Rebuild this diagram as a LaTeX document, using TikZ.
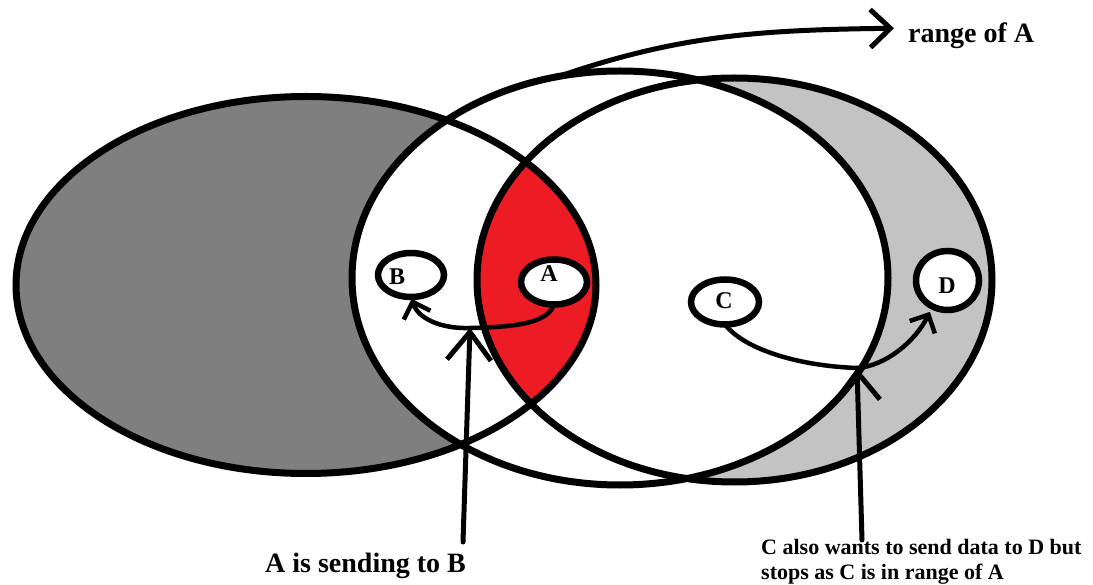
\documentclass[tikz,border=0pt]{standalone}
\usepackage{fontspec}
\setmainfont{Liberation Serif}
\usetikzlibrary{arrows.meta,shapes.geometric}
\definecolor{darkgr}{RGB}{127,127,127}
\definecolor{lightgr}{RGB}{195,195,195}
\definecolor{paintred}{RGB}{237,28,36}
\begin{document}
\begin{tikzpicture}[x=1pt,y=-1pt,
  venn/.style={line width=7pt},
  station/.style={ellipse, draw, line width=6.5pt, fill=white, inner sep=0pt, outer sep=0pt},
  letter/.style={font=\fontsize{24}{26}\selectfont\bfseries, inner sep=0pt},
  link/.style={line width=4.5pt, line cap=round, -{Straight Barb[length=14pt,width=28pt]}},
  pointer/.style={line width=5pt, line cap=round, -{Straight Barb[length=28pt,width=44pt]}},
  rangearrow/.style={line width=5pt, line cap=round, -{Straight Barb[length=20pt,width=38pt]}},
  caption/.style={font=\bfseries, inner sep=0pt}
]
\useasboundingbox (0,0) rectangle (1093,585);
% fills
\fill[darkgr] (306,285) ellipse [x radius=290pt, y radius=188.5pt];
\fill[lightgr] (734.5,280) ellipse [x radius=257.5pt, y radius=202pt];
\fill[white] (620,278) ellipse [x radius=268pt, y radius=207pt];
\begin{scope}
  \clip (306,285) ellipse [x radius=290pt, y radius=188.5pt];
  \fill[paintred] (734.5,280) ellipse [x radius=257.5pt, y radius=202pt];
\end{scope}
% outlines
\draw[venn] (306,285) ellipse [x radius=290pt, y radius=188.5pt];
\draw[venn] (620,278) ellipse [x radius=268pt, y radius=207pt];
\draw[venn] (734.5,280) ellipse [x radius=257.5pt, y radius=202pt];
% stations
\node[station, minimum width=66pt, minimum height=44pt] (nB) at (411,275) {};
\node[station, minimum width=66pt, minimum height=45pt] (nA) at (554,282) {};
\node[station, minimum width=68pt, minimum height=45pt] (nC) at (725,302) {};
\node[station, minimum width=63pt, minimum height=59pt] (nD) at (947.5,280.5) {};
\node[letter] (tB) at (397,277) {B};
\node[letter] (tA) at (549,274) {A};
\node[letter] (tC) at (724,301) {C};
\node[letter] (tD) at (947,286) {D};
% connectors
\coordinate (hitAB) at (470,328);
\coordinate (hitCD) at (857,368);
\draw[link, shorten >=2pt] (nA.south) .. controls (548,322) and (520,327) .. (hitAB)
   .. controls (440,329) and (418,318) .. (nB.south);
\draw[link, shorten >=6pt] (nC.south) .. controls (745,350) and (800,366) .. (hitCD)
   .. controls (885,366) and (915,342) .. (nD.240);
% range arrow
\node[caption, anchor=base west, font=\fontsize{28}{30}\selectfont\bfseries] (rangeA) at (908,43) {range of A};
\coordinate (rs) at (560,76);
\draw[rangearrow] (rs) .. controls (680,35) and (760,30) .. ([xshift=-14pt,yshift=8pt]rangeA.west);
% captions and pointers
\node[caption, anchor=base west, font=\fontsize{28}{30}\selectfont\bfseries] (sendtxt) at (265,572) {A is sending to B};
\node[caption, anchor=north west, align=left, font=\fontsize{22}{25.5}\selectfont\bfseries] (stoptxt) at (761,539) {C also wants to send data to D but\\stops as C is in range of A};
\coordinate (p1) at (463,542);
\coordinate (p2) at (862,540);
\draw[pointer] (p1) -- (hitAB);
\draw[pointer] (p2) -- (hitCD);
\end{tikzpicture}
\end{document}
